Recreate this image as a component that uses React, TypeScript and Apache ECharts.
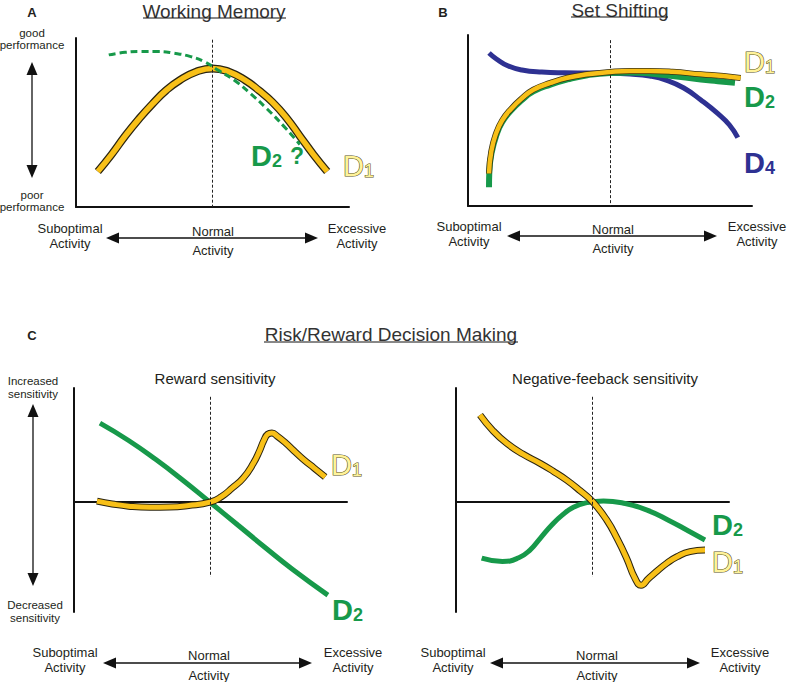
import React, { useEffect, useRef } from "react";
import * as echarts from "echarts";

// ---------- Data (abstract units: x 0..100 activity, 50 = normal) ----------
// A: Working Memory (y 0..100 performance)
const wmD1X = [8, 13, 18, 23, 28, 33, 38, 44, 50, 56, 62, 67, 72, 77, 82, 87, 92];
const wmD1Y = [21, 31, 42, 52, 61, 69, 75, 80, 82, 80, 75, 69, 62, 53, 42, 31, 21];
const wmD2X = [12, 18, 24, 30, 36, 42, 47, 52, 58, 64, 70, 76, 82];
const wmD2Y = [90, 91.5, 92, 92, 91, 89, 86, 81, 75, 67, 58, 48, 37];

// B: Set Shifting
const ssD4X = [7.4, 10, 14, 19, 26, 34, 42, 50, 57, 64, 70, 76, 82, 88, 92, 95];
const ssD4Y = [89.5, 86, 82, 79.5, 78.3, 77.9, 77.8, 77.7, 77.2, 76, 73.5, 69, 62, 54, 47.5, 40];
const ssD1X = [7.4, 8.2, 10, 12, 15, 19, 23, 29, 35, 42, 50, 57, 64, 72, 82, 90, 96];
const ssD1Y = [19, 32, 43, 50, 56.5, 63, 68, 72, 75, 77, 78.4, 79, 79, 78.5, 77, 76, 74.8];
const ssD2X = [7.4, 7.5, 8.3, 10, 12, 15, 19, 23, 29, 35, 42, 50, 57, 64, 72, 82, 88, 94];
const ssD2Y = [11, 20, 31, 41.5, 49, 55.5, 62, 67, 71, 74, 76.5, 77.8, 78, 77.5, 76, 74, 73, 72];

// C left: Reward sensitivity (y -50..52, 0 = baseline)
const rwD2X = [9.5, 20, 30, 40, 49.8, 60, 70, 80, 93];
const rwD2Y = [36, 28.1, 19.4, 9.9, 0, -10.4, -20.6, -30.5, -42.3];
const rwD1X = [8.4, 14, 20, 27.8, 35, 42, 49.8, 54, 58, 62, 65.7, 68, 69.5, 71, 72.5, 74.5, 77.5, 80.5, 84, 88, 92];
const rwD1Y = [0.5, -0.8, -1.8, -2.3, -2.2, -1.5, 0, 2.5, 6.5, 11, 17.7, 23.5, 28, 31, 31.5, 30, 27, 23.5, 19.5, 15.5, 11.5];

// C right: Negative-feedback sensitivity
const nfD1X = [8.8, 13.5, 18.6, 24.5, 30.8, 35.5, 40.5, 45.5, 50, 55.2, 59, 62.5, 65.5, 67.8, 70.5, 74, 77.2, 81, 85.7, 91.2];
const nfD1Y = [39.7, 32.6, 26.8, 21.9, 17.7, 14.2, 10.1, 5.2, 0.3, -8.1, -16.5, -25.5, -34.5, -37.8, -34.8, -31, -27.8, -24.8, -22.5, -21.8];
const nfD2X = [9.4, 17, 23, 27.1, 31, 35, 39, 43, 48, 54, 62, 70, 78, 85, 91.2];
const nfD2Y = [-25.5, -27, -25.3, -21.8, -16.2, -10.5, -5.8, -2.3, -0.2, 0.6, -0.6, -3.6, -8.3, -13, -17.2];

const NORMAL = 50;

// ---------- Styles ----------
const FONT = '"Liberation Sans", Arial, Helvetica, sans-serif';
const YELLOW = "#F8C018";
const GREEN = "#17994A";
const BLUE = "#2E3192";
const TXT = "#231F20";

const pts = (xs: number[], ys: number[]) => xs.map((x, i) => [x, ys[i]]);

function line(gi: number, data: number[][], color: string, width: number, extra: any = {}) {
  return {
    type: "line",
    xAxisIndex: gi,
    yAxisIndex: gi,
    data,
    symbol: "none",
    smooth: 0.5,
    silent: true,
    lineStyle: { color, width, ...(extra.lineStyle || {}) },
    ...(extra.rest || {}),
  };
}

function dashed(y1: number, y2: number) {
  return {
    silent: true,
    symbol: "none",
    label: { show: false },
    lineStyle: { type: [3, 2], color: "#222", width: 1 },
    data: [[{ coord: [NORMAL, y1] }, { coord: [NORMAL, y2] }]],
  };
}

function txt(x: number, y: number, text: string, size: number, extra: any = {}) {
  return {
    type: "text",
    x,
    y,
    silent: true,
    style: {
      text,
      fill: TXT,
      fontSize: size,
      fontFamily: FONT,
      align: "center",
      verticalAlign: "middle",
      ...extra,
    },
  };
}

function seg(x1: number, y1: number, x2: number, y2: number, w = 1.3) {
  return { type: "line", silent: true, shape: { x1, y1, x2, y2 }, style: { stroke: "#111", lineWidth: w } };
}

function poly(points: number[][]) {
  return { type: "polygon", silent: true, shape: { points }, style: { fill: "#111" } };
}

function hArrow(x1: number, x2: number, y: number) {
  return [
    seg(x1 + 8, y, x2 - 8, y),
    poly([[x1, y], [x1 + 13, y - 5.5], [x1 + 13, y + 5.5]]),
    poly([[x2, y], [x2 - 13, y - 5.5], [x2 - 13, y + 5.5]]),
  ];
}

function vArrow(x: number, y1: number, y2: number) {
  return [
    seg(x, y1 + 8, x, y2 - 8),
    poly([[x, y1], [x - 5.5, y1 + 13], [x + 5.5, y1 + 13]]),
    poly([[x, y2], [x - 5.5, y2 - 13], [x + 5.5, y2 - 13]]),
  ];
}

function footer(subX: number, normX: number, excX: number, ax1: number, ax2: number, y: number, ay: number, ny: number, acty: number) {
  return [
    txt(subX, y, "Suboptimal", 13),
    txt(subX, y + 15, "Activity", 13),
    txt(excX, y, "Excessive", 13),
    txt(excX, y + 15, "Activity", 13),
    txt(normX, ny, "Normal", 13),
    txt(normX, acty, "Activity", 13),
    ...hArrow(ax1, ax2, ay),
  ];
}

function dLabel(x: number, y: number, sub: string, kind: "y" | "g" | "b") {
  const base: any = { fontFamily: FONT, verticalAlign: "bottom" };
  let d: any, s: any;
  if (kind === "y") {
    d = { ...base, fontSize: 29, lineHeight: 28, fill: "#FFF39A", stroke: "#5B5326", lineWidth: 1.2 };
    s = { ...base, fontSize: 18, lineHeight: 19, fill: "#FFF39A", stroke: "#5B5326", lineWidth: 1.1 };
  } else {
    const c = kind === "g" ? GREEN : BLUE;
    d = { ...base, fontSize: 29, lineHeight: 28, fill: c, fontWeight: "bold" };
    s = { ...base, fontSize: 18, lineHeight: 19, fill: c, fontWeight: "bold" };
  }
  return {
    type: "text",
    x,
    y,
    silent: true,
    style: { text: `{d|D}{s|${sub}}`, rich: { d, s }, align: "left", verticalAlign: "middle" },
  };
}

const axisCommon = {
  axisLine: { show: true, onZero: true, lineStyle: { color: "#111", width: 2 } },
  axisTick: { show: false },
  axisLabel: { show: false },
  splitLine: { show: false },
};

export default function App() {
  const ref = useRef<HTMLDivElement>(null);
  useEffect(() => {
    if (!ref.current) return;
    const chart = echarts.init(ref.current, null, { renderer: "svg" });

    const grids = [
      { left: 76, top: 38, width: 273, height: 169 },
      { left: 468, top: 35, width: 284, height: 171 },
      { left: 74, top: 388, width: 273, height: 224 },
      { left: 456, top: 388, width: 273, height: 224 },
    ];
    const yRanges = [
      [0, 100],
      [0, 100],
      [-50, 52],
      [-50, 52],
    ];

    const series: any[] = [
      // A
      line(0, pts(wmD1X, wmD1Y), "#2a2410", 8, { rest: { markLine: dashed(99, 0), z: 2 } }),
      line(0, pts(wmD1X, wmD1Y), YELLOW, 5.5, { rest: { z: 3 } }),
      line(0, pts(wmD2X, wmD2Y), GREEN, 3, { lineStyle: { type: [7, 4] }, rest: { z: 4 } }),
      // B
      line(1, pts(ssD4X, ssD4Y), BLUE, 5, { rest: { markLine: dashed(97, 0), z: 2 } }),
      line(1, pts(ssD2X, ssD2Y), GREEN, 6, { rest: { z: 3 } }),
      line(1, pts(ssD1X, ssD1Y), "#3a3212", 6, { rest: { z: 4 } }),
      line(1, pts(ssD1X, ssD1Y), YELLOW, 4.5, { rest: { z: 5 } }),
      // C left
      line(2, pts(rwD2X, rwD2Y), GREEN, 5, { rest: { markLine: dashed(48, -34), z: 2 } }),
      line(2, pts(rwD1X, rwD1Y), "#2a2410", 7, { rest: { z: 3 } }),
      line(2, pts(rwD1X, rwD1Y), YELLOW, 5, { rest: { z: 4 } }),
      // C right
      line(3, pts(nfD2X, nfD2Y), GREEN, 5, { rest: { markLine: dashed(48, -34), z: 2 } }),
      line(3, pts(nfD1X, nfD1Y), "#2a2410", 7, { rest: { z: 3 } }),
      line(3, pts(nfD1X, nfD1Y), YELLOW, 5, { rest: { z: 4 } }),
    ];

    const elements: any[] = [
      // Panel letters and titles
      txt(32, 12, "A", 13, { fontWeight: "bold" }),
      txt(443, 12, "B", 13, { fontWeight: "bold" }),
      txt(32, 335, "C", 13, { fontWeight: "bold" }),
      txt(214, 11, "Working Memory", 19, { fill: "#333" }),
      seg(143, 18, 286, 18, 1),
      txt(620, 10, "Set Shifting", 19, { fill: "#333" }),
      seg(571, 17, 668, 17, 1),
      txt(391, 334, "Risk/Reward Decision Making", 19, { fill: "#333" }),
      seg(264, 342, 518, 342, 1),
      txt(215, 378, "Reward sensitivity", 15),
      txt(605, 378, "Negative-feeback sensitivity", 15),
      // Y descriptions
      txt(32, 33, "good", 11.5),
      txt(32, 45, "performance", 11.5),
      txt(32, 195, "poor", 11.5),
      txt(32, 207, "performance", 11.5),
      ...vArrow(32, 62, 178),
      txt(33, 381, "Increased", 11.5),
      txt(33, 394, "sensitivity", 11.5),
      txt(35, 605, "Decreased", 11.5),
      txt(35, 618, "sensitivity", 11.5),
      ...vArrow(33, 404, 586),
      // Footers
      ...footer(70, 213, 357, 106, 318, 228, 238, 231, 250),
      ...footer(469, 613, 757, 507, 717, 226, 236, 229, 248),
      ...footer(65, 209, 353, 103, 312, 652, 663, 655, 675),
      ...footer(453, 597, 740, 490, 700, 652, 663, 655, 675),
      // Curve labels
      dLabel(251, 156, "2", "g"),
      txt(297, 156, "?", 23, { fill: GREEN, fontWeight: "bold" }),
      dLabel(343, 166, "1", "y"),
      dLabel(744, 62, "1", "y"),
      dLabel(744, 97, "2", "g"),
      dLabel(744, 163, "4", "b"),
      dLabel(331, 465, "1", "y"),
      dLabel(332, 610, "2", "g"),
      dLabel(712, 525, "2", "g"),
      dLabel(712, 562, "1", "y"),
    ];

    chart.setOption({
      animation: false,
      backgroundColor: "#fff",
      grid: grids,
      xAxis: grids.map((_, i) => ({ type: "value", gridIndex: i, min: 0, max: 100, ...axisCommon })),
      yAxis: grids.map((_, i) => ({
        type: "value",
        gridIndex: i,
        min: yRanges[i][0],
        max: yRanges[i][1],
        ...axisCommon,
      })),
      series,
      graphic: { elements },
    });
    return () => chart.dispose();
  }, []);

  return <div ref={ref} style={{ position: "absolute", left: 0, top: 0, width: 787, height: 682 }} />;
}
